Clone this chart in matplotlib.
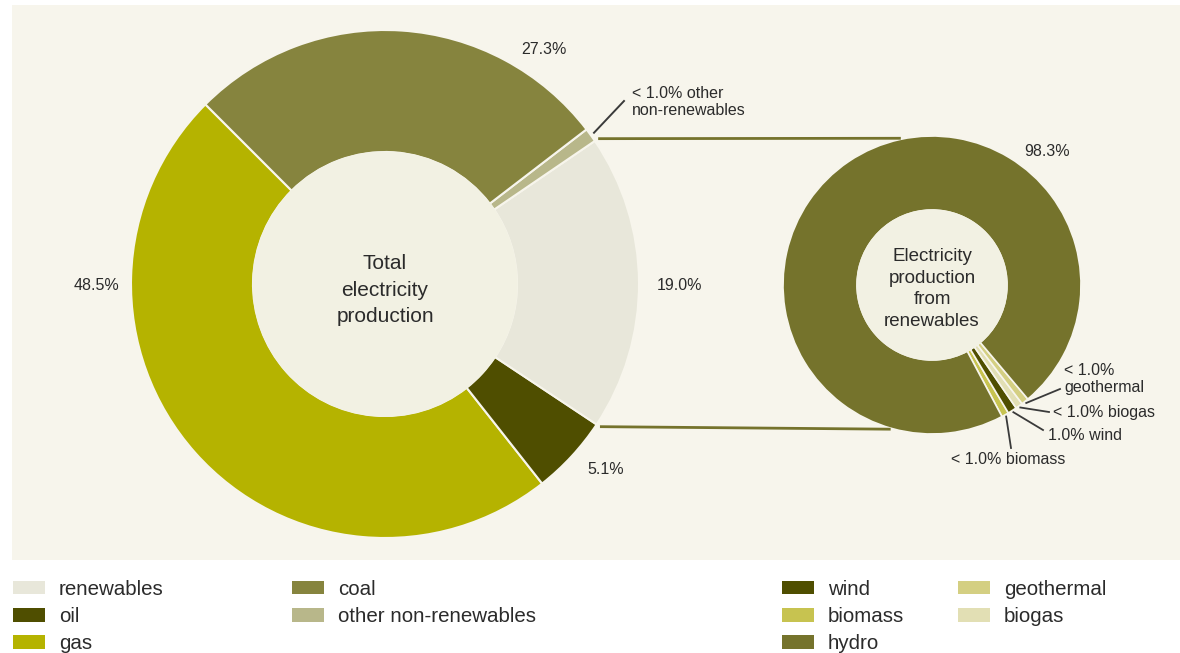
import numpy as np
import matplotlib.pyplot as plt
from matplotlib.patches import Rectangle, Circle, Patch

plt.rcParams['font.family'] = ['Liberation Sans', 'DejaVu Sans']

# total electricity production, % (drawn counter-clockwise from the top left)
total_labels = ['gas', 'oil', 'renewables', 'other non-renewables', 'coal']
total_values = [48.5, 5.1, 19.0, 0.9, 27.3]
total_colors = ['#b5b300', '#4f4e00', '#e8e7da', '#b8b78a', '#86843e']

# electricity production from renewables, %
ren_labels = ['biomass', 'wind', 'biogas', 'geothermal', 'hydro']
ren_values = [0.8, 1.0, 0.8, 0.8, 98.3]
ren_colors = ['#c7c350', '#4f4e00', '#e2dfb4', '#d4cf82', '#75732c']

legend1_labels = ['renewables', 'oil', 'gas', 'coal', 'other non-renewables']
legend2_labels = ['wind', 'biomass', 'hydro', 'geothermal', 'biogas']

bg = '#f7f5ec'
hole = '#f2f1e3'
txt = '#2b2b2b'

W, H = 1180, 653
fig = plt.figure(figsize=(W / 100, H / 100), dpi=100)
ax = fig.add_axes([0, 0, 1, 1])


def Y(y):
    return H - y


def pt(c, r, ang):
    a = np.radians(ang)
    return c[0] + r * np.cos(a), c[1] + r * np.sin(a)


ax.add_patch(Rectangle((12, Y(560)), W - 12, 555, color=bg, zorder=0, lw=0))

# big donut
c1, r1, w1 = (385, Y(284)), 254, 122
wedges1, _ = ax.pie(total_values, colors=total_colors, startangle=135,
                    center=c1, radius=r1, frame=True,
                    wedgeprops=dict(width=w1, edgecolor=bg, linewidth=1.5))
ax.add_patch(Circle(c1, r1 - w1, color=hole, zorder=3))
ax.text(c1[0], Y(290), 'Total\nelectricity\nproduction', ha='center', va='center',
        fontsize=15, color=txt, linespacing=1.5, zorder=4)

# small donut
c2, r2, w2 = (932, Y(285)), 149, 74
wedges2, _ = ax.pie(ren_values, colors=ren_colors, startangle=-62,
                    center=c2, radius=r2, frame=True,
                    wedgeprops=dict(width=w2, edgecolor=bg, linewidth=1.2))
ax.add_patch(Circle(c2, r2 - w2, color=hole, zorder=3))
ax.text(c2[0], Y(289), 'Electricity\nproduction\nfrom\nrenewables', ha='center', va='center',
        fontsize=13.5, color=txt, linespacing=1.35, zorder=4)

# connectors from renewables slice to the breakdown donut
ren = wedges1[total_labels.index('renewables')]
for a1, a2 in [(ren.theta2, 102), (ren.theta1, -106)]:
    p = pt(c1, r1 + 4, a1)
    q = pt(c2, r2 + 1, a2)
    ax.plot([p[0], q[0]], [p[1], q[1]], color='#75732c', lw=2, solid_capstyle='butt')

# percentage labels on the big donut
lab_pos = {'gas': (96, 286), 'oil': (606, 470), 'renewables': (679, 286), 'coal': (544, 50)}
for name, v in zip(total_labels, total_values):
    if name in lab_pos:
        x, y = lab_pos[name]
        ax.text(x, Y(y), f'{v:.1f}%', ha='center', va='center', fontsize=11.5, color=txt)

w = wedges1[total_labels.index('other non-renewables')]
p = pt(c1, r1 + 4, (w.theta1 + w.theta2) / 2)
ax.plot([p[0], 624], [p[1], Y(101)], color='#3a3a3a', lw=1.4)
ax.text(632, Y(102), '< 1.0% other\nnon-renewables', ha='left', va='center',
        fontsize=11.5, color=txt, linespacing=1.15)

# labels on the small donut
ax.text(1047, Y(151), f'{ren_values[4]:.1f}%', ha='center', va='center', fontsize=11.5, color=txt)
small = {
    'geothermal': ((1060, 389), (1064, 379), '< 1.0%\ngeothermal', 'left'),
    'biogas': ((1049, 412), (1053, 412), '< 1.0% biogas', 'left'),
    'wind': ((1043, 430), (1048, 435), f'{ren_values[1]:.1f}% wind', 'left'),
    'biomass': ((1011, 448), (1008, 459), '< 1.0% biomass', 'center'),
}
for name, (end, tpos, s, ha) in small.items():
    w = wedges2[ren_labels.index(name)]
    p = pt(c2, r2 + 2, (w.theta1 + w.theta2) / 2)
    ax.plot([p[0], end[0]], [p[1], Y(end[1])], color='#3a3a3a', lw=1.3)
    ax.text(tpos[0], Y(tpos[1]), s, ha=ha, va='center', fontsize=11.5, color=txt,
            linespacing=1.15)

# legends
col1 = dict(zip(total_labels, total_colors))
col2 = dict(zip(ren_labels, ren_colors))
leg_kw = dict(ncol=2, frameon=False, fontsize=14.8, handlelength=1.56, handleheight=0.63,
              handletextpad=0.68, labelspacing=0.40, borderpad=0, borderaxespad=0,
              loc='upper left', bbox_transform=ax.transData)
h1 = [Patch(color=col1[n], lw=0) for n in legend1_labels]
leg1 = ax.legend(h1, legend1_labels, bbox_to_anchor=(13, Y(580)), columnspacing=6.25, **leg_kw)
for t in leg1.get_texts():
    t.set_color(txt)
ax.add_artist(leg1)
h2 = [Patch(color=col2[n], lw=0) for n in legend2_labels]
leg2 = ax.legend(h2, legend2_labels, bbox_to_anchor=(782, Y(580)), columnspacing=2.6, **leg_kw)
for t in leg2.get_texts():
    t.set_color(txt)

ax.set_xlim(0, W)
ax.set_ylim(0, H)
ax.set_aspect('auto')
ax.axis('off')

fig.savefig('out.png', dpi=100, facecolor='white')
